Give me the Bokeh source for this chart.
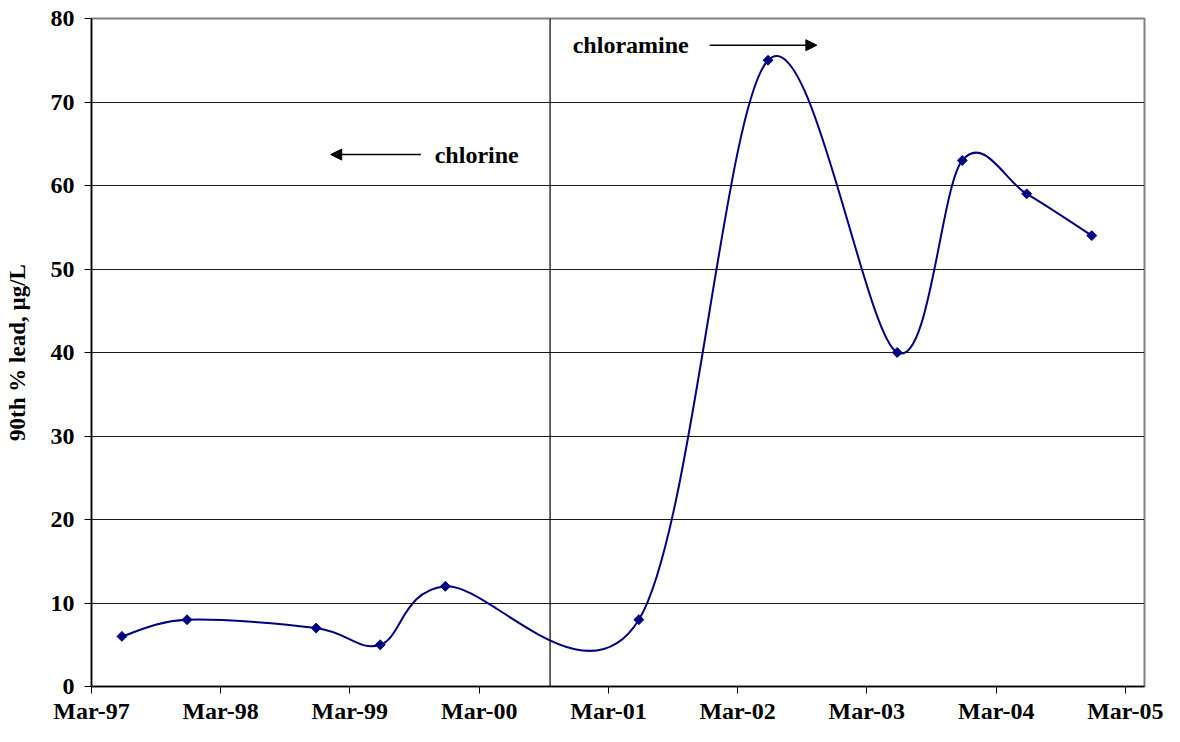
import numpy as np
import pandas as pd
from bokeh.plotting import figure
from bokeh.models import (Range1d, FixedTicker, DatetimeTickFormatter, Span,
                          Arrow, NormalHead, Label, ColumnDataSource)
from bokeh.embed import file_html
from bokeh.resources import INLINE

# ---- data ----
sample_dates = ["1997-05-26", "1997-11-26", "1998-11-26", "1999-05-26", "1999-11-26",
                "2001-05-26", "2002-05-26", "2003-05-26", "2003-11-26", "2004-05-26",
                "2004-11-26"]
lead_90th = [6, 8, 7, 5, 12, 8, 75, 40, 63, 59, 54]

tick_dates = ["1997-03-01", "1998-03-01", "1999-03-01", "2000-03-01", "2001-03-01",
              "2002-03-01", "2003-03-01", "2004-03-01", "2005-03-01"]
tick_labels = ["Mar-97", "Mar-98", "Mar-99", "Mar-00", "Mar-01",
               "Mar-02", "Mar-03", "Mar-04", "Mar-05"]
y_ticks = [0, 10, 20, 30, 40, 50, 60, 70, 80]

switch_date = "2000-09-17"
x_start, x_end = "1997-03-01", "2005-04-24"


def ms(s):
    return pd.Timestamp(s).value / 1e6


FONT = "Liberation Serif"
NAVY = "#000080"

xs = np.array([ms(d) for d in sample_dates])
ys = np.array(lead_90th, dtype=float)

# smoothed line (Catmull-Rom style cubic Bezier segments, as Excel smoothing)
n = len(xs)
def pt(i):
    i = min(max(i, 0), n - 1)
    return xs[i], ys[i]

seg = dict(x0=[], y0=[], x1=[], y1=[], cx0=[], cy0=[], cx1=[], cy1=[])
for i in range(n - 1):
    xa, ya = pt(i)
    xb, yb = pt(i + 1)
    xp, yp = pt(i - 1)
    xn, yn = pt(i + 2)
    seg["x0"].append(xa); seg["y0"].append(ya)
    seg["x1"].append(xb); seg["y1"].append(yb)
    seg["cx0"].append(xa + (xb - xp) / 6.0); seg["cy0"].append(ya + (yb - yp) / 6.0)
    seg["cx1"].append(xb - (xn - xa) / 6.0); seg["cy1"].append(yb - (yn - ya) / 6.0)

p = figure(width=1164, height=726, x_axis_type="datetime",
           x_range=Range1d(ms(x_start), ms(x_end)), y_range=Range1d(0, 80),
           output_backend="svg", toolbar_location=None,
           min_border_left=91, min_border_right=20, min_border_top=18,
           min_border_bottom=40)

p.background_fill_color = "white"
p.border_fill_color = "white"
p.outline_line_color = "#808080"
p.outline_line_width = 2

p.xgrid.grid_line_color = None
p.ygrid.grid_line_color = "#1a1a1a"
p.ygrid.grid_line_width = 1
p.ygrid.ticker = FixedTicker(ticks=y_ticks)

tick_ms = [ms(d) for d in tick_dates]
p.xaxis.ticker = FixedTicker(ticks=tick_ms)
p.xaxis.formatter = DatetimeTickFormatter(years="%b-%y", months="%b-%y", days="%b-%y",
                                          hours="%b-%y", minutes="%b-%y")
p.xaxis.major_label_overrides = {t: l for t, l in zip(tick_ms, tick_labels)}
p.yaxis.ticker = FixedTicker(ticks=y_ticks)

for ax in (p.xaxis, p.yaxis):
    ax.axis_line_color = "black"
    ax.axis_line_width = 1.5
    ax.major_tick_line_color = "black"
    ax.major_tick_line_width = 1
    ax.major_tick_out = 7
    ax.major_tick_in = 0
    ax.minor_tick_line_color = None
    ax.major_label_text_font = FONT
    ax.major_label_text_font_style = "bold"
    ax.major_label_text_font_size = "24px"
    ax.major_label_text_color = "black"

p.xaxis.major_label_standoff = 4
p.yaxis.major_label_standoff = 10
p.yaxis.axis_label = "90th % lead, µg/L"
p.yaxis.axis_label_text_font = FONT
p.yaxis.axis_label_text_font_style = "bold"
p.yaxis.axis_label_text_font_size = "23px"
p.yaxis.axis_label_text_color = "black"
p.yaxis.axis_label_standoff = 18

# disinfectant switch line
p.add_layout(Span(location=ms(switch_date), dimension="height",
                  line_color="black", line_width=1.2))

# smoothed series and markers
p.bezier(x0="x0", y0="y0", x1="x1", y1="y1", cx0="cx0", cy0="cy0",
         cx1="cx1", cy1="cy1", source=ColumnDataSource(seg),
         line_color=NAVY, line_width=2)
p.scatter(xs, ys, marker="square", angle=np.pi / 4, size=7,
          fill_color=NAVY, line_color=NAVY)

# annotations
p.add_layout(Arrow(end=NormalHead(size=11, fill_color="black", line_color="black"),
                   x_start=ms("1999-09-18"), y_start=63.7,
                   x_end=ms("1999-01-06"), y_end=63.7,
                   line_color="black", line_width=1.5))
p.add_layout(Label(x=ms("1999-10-27"), y=63.7, text="chlorine",
                   text_baseline="middle", text_font=FONT, text_font_style="bold",
                   text_font_size="24px", text_color="black"))

p.add_layout(Arrow(end=NormalHead(size=11, fill_color="black", line_color="black"),
                   x_start=ms("2001-12-12"), y_start=76.8,
                   x_end=ms("2002-10-11"), y_end=76.8,
                   line_color="black", line_width=1.5))
p.add_layout(Label(x=ms("2000-11-20"), y=76.8, text="chloramine",
                   text_baseline="middle", text_font=FONT, text_font_style="bold",
                   text_font_size="24px", text_color="black"))

open("out.html", "w").write(file_html(p, INLINE))
